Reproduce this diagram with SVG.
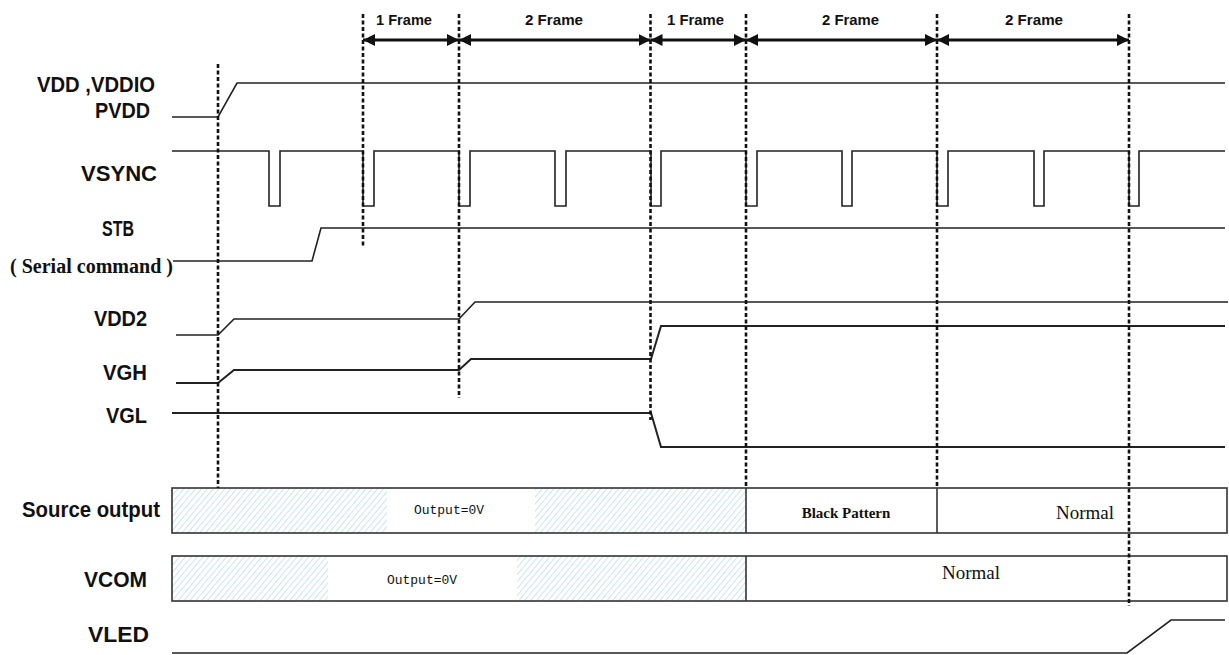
<svg xmlns="http://www.w3.org/2000/svg" width="1229" height="655" viewBox="0 0 1229 655">
<style>
.lbl{font-family:"Liberation Sans",Arial,sans-serif;font-weight:bold;font-size:22px;fill:#111}
.frm{font-family:"Liberation Sans",Arial,sans-serif;font-weight:bold;font-size:14px;fill:#111}
.ser{font-family:"Liberation Serif","Times New Roman",serif;fill:#111}
.mono{font-family:"Liberation Mono","Courier New",monospace;font-size:13px;fill:#111}
.sig{fill:none;stroke:#222;stroke-width:1.6;stroke-linejoin:miter}
.sig2{fill:none;stroke:#222;stroke-width:2;stroke-linejoin:miter}
.dash{fill:none;stroke:#111;stroke-width:2.6;stroke-dasharray:4 2.5}
.arr{fill:none;stroke:#111;stroke-width:3}
.box{fill:none;stroke:#333;stroke-width:1.6}
</style>
<defs>
<pattern id="hatch" patternUnits="userSpaceOnUse" width="4.5" height="4.5" patternTransform="rotate(40)">
<line x1="0" y1="0" x2="0" y2="4.5" stroke="#9fd2dc" stroke-width="1.1"/>
</pattern>
<marker id="ah" viewBox="0 0 12 12" refX="12" refY="6" markerWidth="12" markerHeight="12" markerUnits="userSpaceOnUse" orient="auto-start-reverse">
<path d="M0,0 L12,6 L0,12 z" fill="#111"/>
</marker>
</defs>

<g id="frame-labels">
<text class="frm" x="376" y="25" textLength="56" lengthAdjust="spacingAndGlyphs">1 Frame</text>
<text class="frm" x="525" y="25" textLength="58" lengthAdjust="spacingAndGlyphs">2 Frame</text>
<text class="frm" x="667" y="25" textLength="57" lengthAdjust="spacingAndGlyphs">1 Frame</text>
<text class="frm" x="822" y="25" textLength="57" lengthAdjust="spacingAndGlyphs">2 Frame</text>
<text class="frm" x="1005" y="25" textLength="58" lengthAdjust="spacingAndGlyphs">2 Frame</text>
</g>

<g id="sig-vdd">
<text class="lbl" x="37" y="92" textLength="118" lengthAdjust="spacingAndGlyphs">VDD ,VDDIO</text>
<text class="lbl" x="95" y="118" textLength="55" lengthAdjust="spacingAndGlyphs">PVDD</text>
<polyline class="sig" points="172,117 218,117 237,83 1225,83"/>
</g>

<g id="sig-vsync">
<text class="lbl" x="81" y="181" textLength="76" lengthAdjust="spacingAndGlyphs">VSYNC</text>
<polyline class="sig" points="172,151 269,151 269,206 280,206 280,151 363,151 363,206 374,206 374,151 459,151 459,206 470,206 470,151 555,151 555,206 566,206 566,151 651,151 651,206 661,206 661,151 746,151 746,206 757,206 757,151 842,151 842,206 852,206 852,151 937,151 937,206 948,206 948,151 1034,151 1034,206 1044,206 1044,151 1129,151 1129,206 1139,206 1139,151 1225,151"/>
</g>

<g id="sig-stb">
<text class="lbl" x="102" y="236" textLength="32" lengthAdjust="spacingAndGlyphs">STB</text>
<text class="ser" x="10" y="273" font-size="20" font-weight="bold" textLength="163" lengthAdjust="spacingAndGlyphs">( Serial command )</text>
<polyline class="sig" points="173,261 312,261 321,228 1225,228"/>
</g>

<g id="sig-vdd2">
<text class="lbl" x="94" y="326" textLength="53" lengthAdjust="spacingAndGlyphs">VDD2</text>
<polyline class="sig" points="176,335 218,335 234,319 459,319 475,302 1228,302"/>
</g>

<g id="sig-vgh">
<text class="lbl" x="103" y="380" textLength="44" lengthAdjust="spacingAndGlyphs">VGH</text>
<polyline class="sig2" points="176,383 218,383 234,370 459,370 471,359 651,359 661,326 1225,326"/>
</g>

<g id="sig-vgl">
<text class="lbl" x="106" y="423" textLength="41" lengthAdjust="spacingAndGlyphs">VGL</text>
<polyline class="sig2" points="172,413 651,413 661,447 1225,447"/>
</g>

<g id="sig-source">
<text class="lbl" x="22" y="517" textLength="138" lengthAdjust="spacingAndGlyphs">Source output</text>
<rect x="172" y="488" width="215" height="45" fill="url(#hatch)"/>
<rect x="535" y="488" width="211" height="45" fill="url(#hatch)"/>
<rect class="box" x="172" y="488" width="1055" height="45"/>
<line class="box" x1="746" y1="488" x2="746" y2="533"/>
<line class="box" x1="937" y1="488" x2="937" y2="533"/>
<text class="mono" x="449" y="514" text-anchor="middle">Output=0V</text>
<text class="ser" x="846" y="518" font-size="15" font-weight="bold" text-anchor="middle">Black Pattern</text>
<text class="ser" x="1085" y="519" font-size="19" text-anchor="middle">Normal</text>
</g>

<g id="sig-vcom">
<text class="lbl" x="84" y="587" textLength="63" lengthAdjust="spacingAndGlyphs">VCOM</text>
<rect x="172" y="556" width="156" height="45" fill="url(#hatch)"/>
<rect x="517" y="556" width="229" height="45" fill="url(#hatch)"/>
<rect class="box" x="172" y="556" width="1055" height="45"/>
<line class="box" x1="746" y1="556" x2="746" y2="601"/>
<text class="mono" x="422" y="584" text-anchor="middle">Output=0V</text>
<text class="ser" x="971" y="579" font-size="19" text-anchor="middle">Normal</text>
</g>

<g id="sig-vled">
<text class="lbl" x="88" y="642" textLength="61" lengthAdjust="spacingAndGlyphs">VLED</text>
<polyline class="sig" points="172,653 1127,653 1171,620 1225,620"/>
</g>

<g id="connectors">
<line class="dash" x1="218" y1="64" x2="218" y2="488"/>
<line class="dash" x1="363" y1="14" x2="363" y2="246"/>
<line class="dash" x1="459" y1="14" x2="459" y2="398"/>
<line class="dash" x1="650.5" y1="14" x2="650.5" y2="420"/>
<line class="dash" x1="746" y1="14" x2="746" y2="488"/>
<line class="dash" x1="937" y1="14" x2="937" y2="488"/>
<line class="dash" x1="1129" y1="14" x2="1129" y2="606"/>
<line class="arr" x1="363" y1="40" x2="459" y2="40" marker-start="url(#ah)" marker-end="url(#ah)"/>
<line class="arr" x1="459" y1="40" x2="650.5" y2="40" marker-start="url(#ah)" marker-end="url(#ah)"/>
<line class="arr" x1="650.5" y1="40" x2="746" y2="40" marker-start="url(#ah)" marker-end="url(#ah)"/>
<line class="arr" x1="746" y1="40" x2="937" y2="40" marker-start="url(#ah)" marker-end="url(#ah)"/>
<line class="arr" x1="937" y1="40" x2="1129" y2="40" marker-start="url(#ah)" marker-end="url(#ah)"/>
</g>
</svg>
